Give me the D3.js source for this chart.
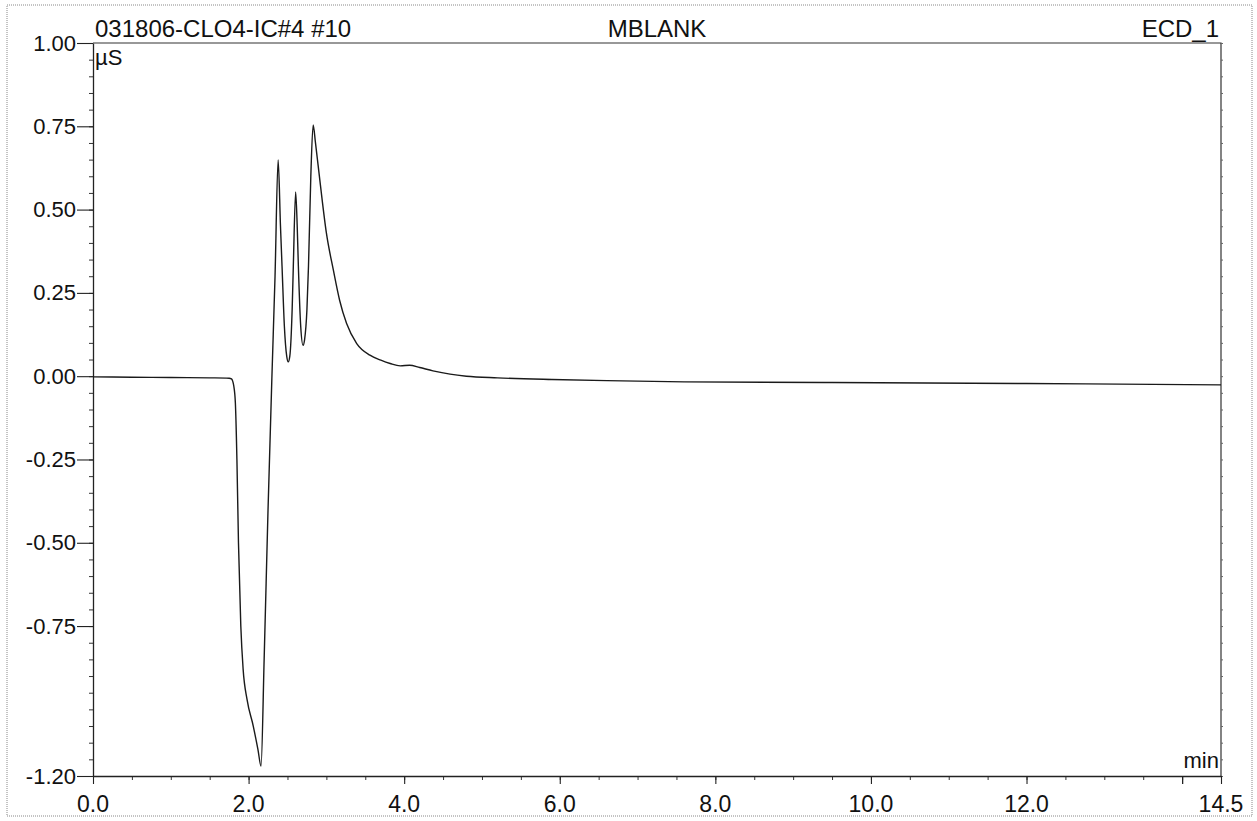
<!DOCTYPE html>
<html>
<head>
<meta charset="utf-8">
<script src="https://cdn.jsdelivr.net/npm/d3@7"></script>
<style>
  html, body { margin: 0; padding: 0; background: #fff; }
  svg { display: block; }
  text { font-family: "Liberation Sans", Arial, sans-serif; fill: #111; }
</style>
</head>
<body>
<svg id="chart" width="1257" height="821"></svg>
<script>
// ---- data ----
const timeMin = [0.0, 0.5, 1.0, 1.5, 1.75, 1.78, 1.81, 1.83, 1.85, 1.87, 1.90, 1.93, 1.98, 2.06, 2.12, 2.16,
  2.20, 2.25, 2.30, 2.34, 2.38, 2.41, 2.43, 2.46, 2.49, 2.51, 2.53, 2.56, 2.575, 2.605, 2.625,
  2.64, 2.67, 2.70, 2.72, 2.75, 2.77, 2.80, 2.83, 2.86, 2.92, 3.00, 3.09, 3.17, 3.26, 3.39, 3.56, 3.70,
  3.82, 3.95, 4.07, 4.20, 4.37, 4.59, 4.80, 5.20, 5.90, 6.80, 7.60, 9.50, 12.0, 14.5];
const signalUS = [-0.002, -0.003, -0.004, -0.005, -0.006, -0.008, -0.03, -0.08, -0.25, -0.5, -0.75, -0.88, -0.97, -1.05, -1.12, -1.17,
  -0.85, -0.4, 0.0, 0.3, 0.649, 0.45, 0.33, 0.15, 0.06, 0.043, 0.06, 0.2, 0.33, 0.553, 0.45,
  0.33, 0.15, 0.093, 0.11, 0.2, 0.33, 0.6, 0.754, 0.7, 0.58, 0.43, 0.318, 0.228, 0.158, 0.098, 0.063, 0.048,
  0.038, 0.031, 0.033, 0.026, 0.016, 0.006, 0.0, -0.005, -0.01, -0.014, -0.017, -0.019, -0.022, -0.026];
const xTickLabels = [0, 2, 4, 6, 8, 10, 12, 14.5];
const yTickLabels = [1.00, 0.75, 0.50, 0.25, 0.00, -0.25, -0.50, -0.75, -1.20];
const headerLeft = "031806-CLO4-IC#4 #10";
const headerCenter = "MBLANK";
const headerRight = "ECD_1";
const yUnit = "µS";
const xUnit = "min";

// ---- layout ----
const svg = d3.select("#chart");
const L = 93, R = 1221, T = 43, B = 776;
const x = d3.scaleLinear().domain([0, 14.5]).range([L, R]);
const y = d3.scaleLinear().domain([-1.2, 1.0]).range([B, T]);
const fmtY = v => v.toFixed(2);
const fmtX = v => v.toFixed(1);

// outer dotted frame
svg.append("rect").attr("x", 7).attr("y", 5).attr("width", 1245).attr("height", 811)
  .attr("fill", "none").attr("stroke", "#888").attr("stroke-width", 1).attr("stroke-dasharray", "1,1");

// plot frame (top and right)
svg.append("path").attr("d", `M${L},${T}H${R}V${B}`)
  .attr("fill", "none").attr("stroke", "#333").attr("stroke-width", 1.2);

// minor ticks
const yMinor = d3.range(-1.2, 1.0001, 0.05).map(v => +v.toFixed(2));
const xMinor = d3.range(0, 14.5001, 0.5).map(v => +v.toFixed(1));

svg.append("g").attr("transform", `translate(${L},0)`)
  .call(d3.axisLeft(y).tickValues(yMinor).tickSize(4).tickFormat("").tickSizeOuter(0))
  .call(g => g.select(".domain").remove())
  .selectAll("line").attr("stroke", "#333");

svg.append("g").attr("transform", `translate(${R},0)`)
  .call(d3.axisRight(y).tickValues(yMinor).tickSize(2).tickFormat("").tickSizeOuter(0))
  .call(g => g.select(".domain").remove())
  .selectAll("line").attr("stroke", "#666");

svg.append("g").attr("transform", `translate(0,${B})`)
  .call(d3.axisBottom(x).tickValues(xMinor).tickSize(4).tickFormat("").tickSizeOuter(0))
  .call(g => g.select(".domain").remove())
  .selectAll("line").attr("stroke", "#333");

// major axes
const yAxis = svg.append("g").attr("transform", `translate(${L},0)`)
  .call(d3.axisLeft(y).tickValues(yTickLabels).tickSize(16).tickPadding(1)
    .tickFormat(fmtY).tickSizeOuter(0));
yAxis.select(".domain").attr("stroke", "#222").attr("stroke-width", 1.3);
yAxis.selectAll("line").attr("stroke", "#222").attr("stroke-width", 1.1);
yAxis.selectAll("text").attr("font-size", 22).attr("fill", "#111")
  .style("font-family", '"Liberation Sans", Arial, sans-serif');

const xAxis = svg.append("g").attr("transform", `translate(0,${B})`)
  .call(d3.axisBottom(x).tickValues(d3.range(0, 14.5, 2).concat([14, 14.5])).tickSize(8).tickFormat("").tickSizeOuter(0));
xAxis.select(".domain").attr("stroke", "#222").attr("stroke-width", 1.3);
xAxis.selectAll("line").attr("stroke", "#222").attr("stroke-width", 1.1);

svg.append("g").selectAll("text").data(xTickLabels).join("text")
  .attr("x", d => x(d)).attr("y", 812)
  .attr("text-anchor", "middle").attr("font-size", 23)
  .text(fmtX);

// headers
svg.append("text").attr("x", 95).attr("y", 37).attr("font-size", 24).text(headerLeft);
svg.append("text").attr("x", 657).attr("y", 37).attr("font-size", 24).attr("text-anchor", "middle").text(headerCenter);
svg.append("text").attr("x", 1219).attr("y", 37).attr("font-size", 24).attr("text-anchor", "end").text(headerRight);
svg.append("text").attr("x", 95).attr("y", 65).attr("font-size", 22).text(yUnit);
svg.append("text").attr("x", 1219).attr("y", 768).attr("font-size", 22).attr("text-anchor", "end").text(xUnit);

// signal trace
const pts = timeMin.map((t, i) => [t, signalUS[i]]);
const line = d3.line().x(d => x(d[0])).y(d => y(d[1])).curve(d3.curveMonotoneX);
svg.append("path").datum(pts).attr("d", line)
  .attr("fill", "none").attr("stroke", "#1a1a1a").attr("stroke-width", 1.4)
  .attr("stroke-linejoin", "round");
</script>
</body>
</html>
